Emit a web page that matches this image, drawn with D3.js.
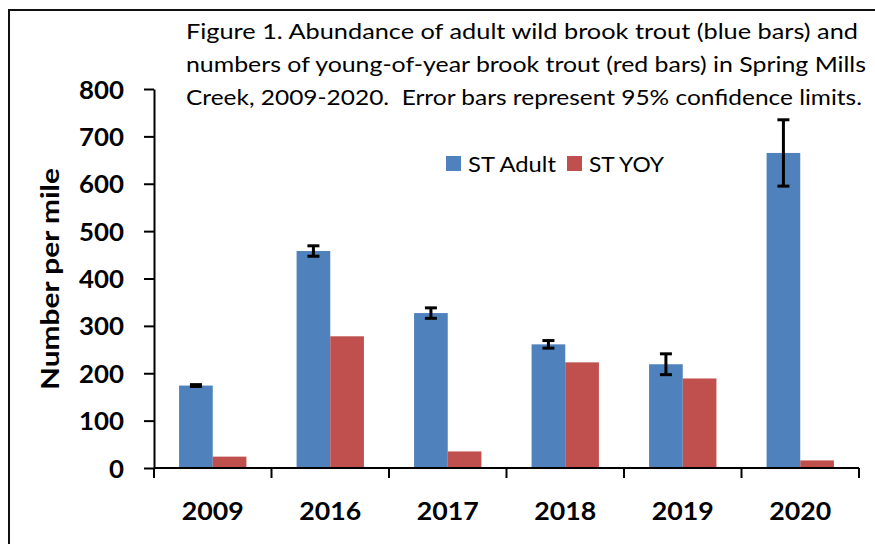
<!DOCTYPE html>
<html>
<head>
  <meta charset="utf-8">
  <script src="https://d3js.org/d3.v7.min.js"></script>
  <style>
    body { margin: 0; background: #fff; }
    text { font-family: Lato, "Open Sans", sans-serif; fill: #000; }
    .title { white-space: pre; }
  </style>
</head>
<body>
  <div id="chart"></div>
  <script>
    // chart values
    const years = ["2009", "2016", "2017", "2018", "2019", "2020"];
    const adult = [174, 458, 327, 261, 219, 665];
    const adultErr = [2, 11, 11, 8, 22, 70];
    const yoy = [24, 278, 35, 223, 189, 16];
    const seriesNames = ["ST Adult", "ST YOY"];
    const yTicks = [0, 100, 200, 300, 400, 500, 600, 700, 800];
    const titleLines = [
      "Figure 1. Abundance of adult wild brook trout (blue bars) and",
      "numbers of young-of-year brook trout (red bars) in Spring Mills",
      "Creek, 2009-2020.  Error bars represent 95% confidence limits."
    ];

    const colors = { "ST Adult": "#4F81BD", "ST YOY": "#C0504D" };

    const W = 875, H = 544;
    const margin = { top: 89, left: 154, right: 16, bottom: 76 };
    const width = W - margin.left - margin.right;
    const height = H - margin.top - margin.bottom;

    const svg = d3.select("#chart")
      .append("svg")
      .attr("width", W)
      .attr("height", H);

    // outer frame (top and left edges visible)
    svg.append("path")
      .attr("d", `M9,${H} V10 H${W}`)
      .attr("fill", "none")
      .attr("stroke", "#111")
      .attr("stroke-width", 2);

    const data = years.map((yr, i) => ({
      year: yr,
      values: [
        { key: "ST Adult", value: adult[i], err: adultErr[i] },
        { key: "ST YOY", value: yoy[i], err: null }
      ]
    }));

    const g = svg.append("g")
      .attr("transform", `translate(${margin.left},${margin.top})`);

    const x0 = d3.scaleBand()
      .domain(years)
      .range([0, width])
      .padding(0);

    const x1 = d3.scaleBand()
      .domain(seriesNames)
      .range([0, x0.bandwidth()])
      .paddingInner(0)
      .paddingOuter(0.745);

    const y = d3.scaleLinear()
      .domain([0, 800])
      .range([height, 0]);

    // bars
    const groups = g.selectAll(".grp")
      .data(data)
      .enter()
      .append("g")
      .attr("class", "grp")
      .attr("transform", d => `translate(${x0(d.year)},0)`);

    groups.selectAll("rect")
      .data(d => d.values)
      .enter()
      .append("rect")
      .attr("x", d => x1(d.key))
      .attr("y", d => y(d.value))
      .attr("width", x1.bandwidth())
      .attr("height", d => height - y(d.value))
      .attr("fill", d => colors[d.key]);

    // error bars on the adult series
    const errs = groups.selectAll(".err")
      .data(d => d.values.filter(v => v.err != null))
      .enter()
      .append("g")
      .attr("class", "err")
      .attr("stroke", "#000")
      .attr("stroke-width", 3);

    const cx = d => x1(d.key) + x1.bandwidth() / 2;
    errs.append("line")
      .attr("x1", cx).attr("x2", cx)
      .attr("y1", d => y(d.value + d.err))
      .attr("y2", d => y(d.value - d.err));
    errs.append("line")
      .attr("x1", d => cx(d) - 6).attr("x2", d => cx(d) + 6)
      .attr("y1", d => y(d.value + d.err))
      .attr("y2", d => y(d.value + d.err));
    errs.append("line")
      .attr("x1", d => cx(d) - 6).attr("x2", d => cx(d) + 6)
      .attr("y1", d => y(d.value - d.err))
      .attr("y2", d => y(d.value - d.err));

    // y axis
    const yAxis = g.append("g")
      .call(d3.axisLeft(y).tickValues(yTicks).tickSize(10).tickSizeOuter(0).tickPadding(20));
    yAxis.select(".domain").attr("stroke", "#000").attr("stroke-width", 2);
    yAxis.selectAll(".tick line").attr("stroke", "#000").attr("stroke-width", 2);
    yAxis.selectAll("text")
      .attr("font-family", "Lato, sans-serif")
      .attr("font-weight", "bold")
      .attr("font-size", 25)
      .attr("dy", "0.36em")
      .attr("textLength", d => String(d).length * 15)
      .attr("lengthAdjust", "spacingAndGlyphs");

    // x axis with ticks on the category boundaries
    const xAxisG = g.append("g")
      .attr("transform", `translate(0,${height})`);
    xAxisG.append("line")
      .attr("x1", 0).attr("x2", width)
      .attr("stroke", "#000").attr("stroke-width", 2);
    const boundaries = years.map(yr => x0(yr)).concat([width]);
    xAxisG.selectAll(".xtick")
      .data(boundaries)
      .enter()
      .append("line")
      .attr("class", "xtick")
      .attr("x1", d => d).attr("x2", d => d)
      .attr("y1", 0).attr("y2", 10)
      .attr("stroke", "#000").attr("stroke-width", 2);
    xAxisG.selectAll(".xlabel")
      .data(years)
      .enter()
      .append("text")
      .attr("class", "xlabel")
      .attr("x", d => x0(d) + x0.bandwidth() / 2)
      .attr("y", 52)
      .attr("text-anchor", "middle")
      .attr("font-weight", "bold")
      .attr("font-size", 25)
      .attr("textLength", 62)
      .attr("lengthAdjust", "spacingAndGlyphs")
      .text(d => d);

    // y axis title
    svg.append("text")
      .attr("transform", "translate(59,279) rotate(-90)")
      .attr("text-anchor", "middle")
      .attr("font-weight", "bold")
      .attr("font-size", 25)
      .attr("textLength", 222)
      .attr("lengthAdjust", "spacingAndGlyphs")
      .text("Number per mile");

    // title block
    const titleWidths = [672, 680, 676];
    svg.selectAll(".title")
      .data(titleLines)
      .enter()
      .append("text")
      .attr("class", "title")
      .attr("x", 186)
      .attr("y", (d, i) => 39 + i * 33)
      .attr("font-size", 21)
      .attr("textLength", (d, i) => titleWidths[i])
      .attr("lengthAdjust", "spacingAndGlyphs")
      .text(d => d);

    // legend
    const legendX = [446, 567];
    const legendW = [88, 75];
    const legend = svg.selectAll(".legend")
      .data(seriesNames)
      .enter()
      .append("g")
      .attr("class", "legend")
      .attr("transform", (d, i) => `translate(${legendX[i]},156)`);
    legend.append("rect")
      .attr("width", 15).attr("height", 15)
      .attr("fill", d => colors[d]);
    legend.append("text")
      .attr("x", 22)
      .attr("y", 15.5)
      .attr("font-size", 21)
      .attr("textLength", (d, i) => legendW[i])
      .attr("lengthAdjust", "spacingAndGlyphs")
      .text(d => d);
  </script>
</body>
</html>
